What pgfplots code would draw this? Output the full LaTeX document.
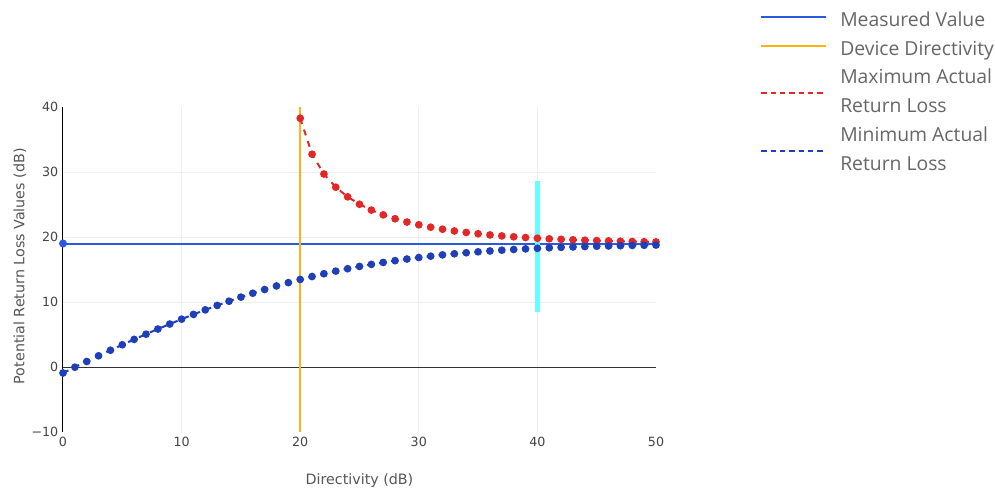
\documentclass[border=0pt]{standalone}
\usepackage{fontspec}
\setmainfont{DejaVu Sans}
\newfontfamily\legfont{Open Sans}
\usepackage{pgfplots}
\pgfplotsset{compat=1.18}

\definecolor{measblue}{HTML}{2A5BDF}
\definecolor{devorange}{HTML}{FBB414}
\definecolor{maxred}{HTML}{E32626}
\definecolor{minblue}{HTML}{1F3FB8}
\definecolor{barcyan}{HTML}{66FFFF}
\definecolor{gridgray}{HTML}{EEEEEE}
\definecolor{ticktext}{HTML}{444444}
\definecolor{labeltext}{HTML}{555555}
\definecolor{legtext}{HTML}{666666}

\newcommand\ls{\rule[-6pt]{0pt}{21.75pt}}
\pgfplotsset{
  oneline legend/.style={legend image code/.code={\draw[##1] (0pt,0pt) -- (48.75pt,0pt);}},
  twoline legend/.style={legend image code/.code={\draw[##1] (0pt,-3.2pt) -- (48.75pt,-3.2pt);}},
}

% minimum actual return loss, measured 19 dB
\pgfplotstableread{
D RL
0 -0.92
1 -0.03
2 0.85
3 1.72
4 2.58
5 3.42
6 4.25
7 5.05
8 5.84
9 6.61
10 7.36
11 8.09
12 8.79
13 9.47
14 10.12
15 10.75
16 11.35
17 11.92
18 12.47
19 12.98
20 13.47
21 13.92
22 14.35
23 14.75
24 15.12
25 15.47
26 15.79
27 16.09
28 16.36
29 16.61
30 16.84
31 17.05
32 17.25
33 17.42
34 17.58
35 17.72
36 17.85
37 17.97
38 18.08
39 18.17
40 18.26
41 18.34
42 18.41
43 18.47
44 18.53
45 18.58
46 18.62
47 18.66
48 18.70
49 18.73
50 18.76
}\mindata

% maximum actual return loss
\pgfplotstableread{
D RL
20 38.27
21 32.74
22 29.69
23 27.66
24 26.18
25 25.04
26 24.14
27 23.41
28 22.81
29 22.30
30 21.88
31 21.51
32 21.20
33 20.93
34 20.70
35 20.50
36 20.32
37 20.17
38 20.03
39 19.92
40 19.81
41 19.72
42 19.64
43 19.57
44 19.50
45 19.45
46 19.40
47 19.35
48 19.31
49 19.28
50 19.25
}\maxdata

\begin{document}
\begin{tikzpicture}
\path[use as bounding box] (-47.25pt,-42.75pt) rectangle (699pt,324pt);
\begin{axis}[
  scale only axis,
  width=444.75pt, height=243.75pt,
  at={(0,0)}, anchor=south west,
  xmin=0, xmax=50, ymin=-10, ymax=40,
  axis x line=bottom, axis y line=left,
  x axis line style={draw=none},
  y axis line style={-, black, line width=0.75pt},
  xtick={0,10,20,30,40,50},
  xticklabels={0,10,20,30,40,50},
  ytick={-10,0,10,20,30,40},
  yticklabels={−10,0,10,20,30,40},
  major tick length=0pt,
  minor xtick={10,20,30,40},
  minor ytick={10,20,30},
  minor tick length=0pt,
  xminorgrids, yminorgrids,
  minor grid style={color=gridgray, line width=0.75pt},
  tick label style={font=\fontsize{9.5}{11}\selectfont, text=ticktext},
  xlabel={Directivity (dB)},
  ylabel={Potential Return Loss Values (dB)},
  label style={font=\fontsize{10.7}{12}\selectfont, text=labeltext},
  xlabel style={at={(axis description cs:0.5,-0.148)}, anchor=center},
  ylabel style={at={(axis description cs:-0.0725,0.51)}, anchor=center},
  legend style={
    at={(rel axis cs:1.1754,1.314)}, anchor=north west,
    draw=none, fill=none, inner sep=0pt, row sep=4.4pt,
    nodes={font=\legfont\fontsize{14.5}{21.75}\selectfont, text=legtext,
           align=left, inner sep=0pt},
    /tikz/every odd column/.append style={column sep=9.75pt},
  },
  legend cell align=left,
  oneline legend,
]
\addplot[black!80, line width=0.75pt, forget plot] coordinates {(0,0) (50,0)};
\addplot[measblue, line width=1.5pt, mark=*, mark size=2.2pt,
  mark indices={1}, forget plot] coordinates {(0,19) (50,19)};
\addplot[devorange, line width=1.5pt, forget plot] coordinates {(20,-10) (20,40)};
\addplot[maxred, line width=1.5pt, dash pattern=on 4.5pt off 4.5pt,
  mark=*, mark size=2.1pt, mark options={solid}, forget plot] table[x=D, y=RL] {\maxdata};
\addplot[minblue, line width=1.5pt, dash pattern=on 4.5pt off 4.5pt,
  mark=*, mark size=2.1pt, mark options={solid}, forget plot] table[x=D, y=RL] {\mindata};
\addplot[barcyan, line width=3.3pt, forget plot] coordinates {(40,8.4) (40,28.6)};

\addlegendimage{measblue, line width=1.5pt}
\addlegendentry{\ls Measured Value}
\addlegendimage{devorange, line width=1.5pt}
\addlegendentry{\ls Device Directivity}
\addlegendimage{maxred, line width=1.5pt, dash pattern=on 4pt off 3pt, twoline legend}
\addlegendentry{\ls Maximum Actual\\\ls Return Loss}
\addlegendimage{minblue, line width=1.5pt, dash pattern=on 4pt off 3pt, twoline legend}
\addlegendentry{\ls Minimum Actual\\\ls Return Loss}
\end{axis}
\end{tikzpicture}
\end{document}
